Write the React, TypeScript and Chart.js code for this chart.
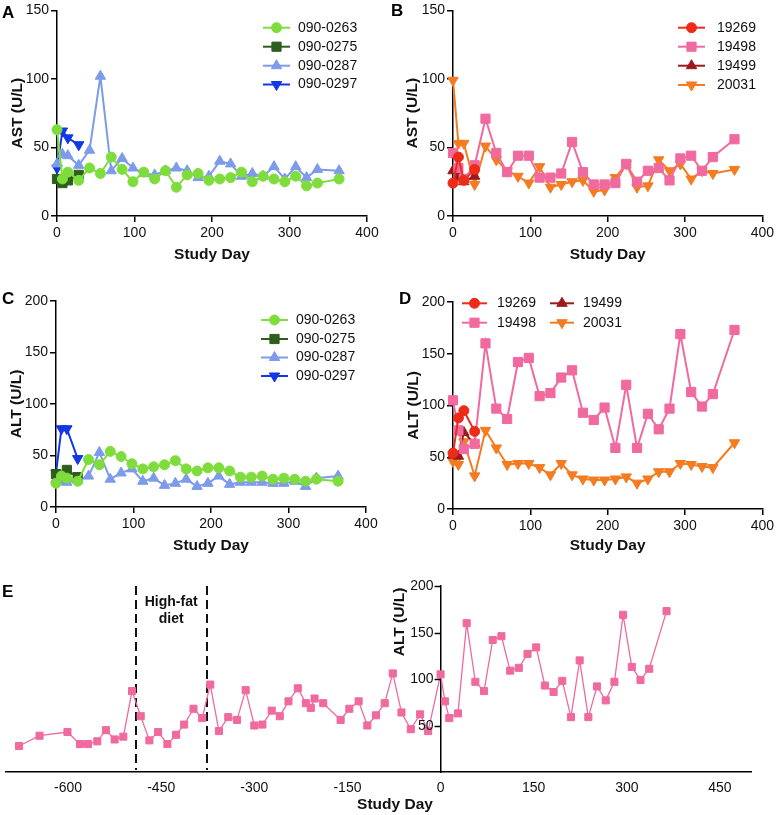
import React, { useEffect, useRef } from 'react';
import { Chart, registerables } from 'chart.js';

Chart.register(...registerables);

const FONT = "'Liberation Sans', Arial, Helvetica, sans-serif";

// ---------------- data ----------------
const STUDY_DAYS = [0, 7, 14, 28, 42, 56, 70, 84, 98, 112, 126, 140, 154, 168, 182, 196, 210, 224, 238, 252, 266, 280, 294, 308, 322, 336, 364];
const EARLY_DAYS = [0, 7, 14, 28];

// Panel A: AST, group 1
const AST_0263 = [63, 27, 32, 26, 35, 31, 43, 34, 25, 32, 27, 33, 21, 30, 31, 26, 27, 28, 32, 25, 29, 27, 25, 29, 22, 24, 27];
const AST_0275 = [27, 24, 26, 30];
const AST_0287 = [38, 45, 44, 37, 48, 102, 33, 42, 35, 31, 30, 33, 35, 33, 28, 29, 40, 38, 29, 31, 29, 36, 27, 36, 28, 34, 33];
const AST_0297 = [35, 62, 57, 52];

// Panel B: AST, group 2
const AST_19269 = [24, 43, 26, 34];
const AST_19498 = [46, 35, 27, 37, 71, 46, 32, 44, 44, 28, 28, 31, 54, 32, 23, 23, 24, 38, 25, 33, 35, 26, 42, 44, 33, 43, 56];
const AST_19499 = [33, 28, 25, 29];
const AST_20031 = [99, 53, 53, 23, 51, 41, 33, 29, 24, 36, 21, 23, 25, 26, 18, 19, 28, 38, 21, 22, 41, 33, 38, 27, 33, 31, 34];

// Panel C: ALT, group 1
const ALT_0263 = [23, 30, 28, 25, 46, 41, 54, 49, 42, 37, 39, 41, 45, 37, 35, 38, 38, 35, 29, 29, 30, 27, 28, 27, 25, 27, 25];
const ALT_0275 = [32, 30, 36, 29];
const ALT_0287 = [27, 25, 24, 26, 30, 53, 27, 33, 37, 25, 28, 21, 23, 27, 20, 23, 30, 22, 24, 24, 24, 23, 23, 25, 20, 28, 30];
const ALT_0297 = [33, 76, 76, 47];

// Panel D: ALT, group 2
const ALT_19269 = [54, 88, 95, 75];
const ALT_19498 = [105, 76, 58, 63, 160, 97, 87, 142, 146, 109, 112, 127, 134, 93, 86, 98, 59, 120, 59, 92, 77, 97, 169, 113, 99, 111, 173];
const ALT_19499 = [52, 51, 74, 63];
const ALT_20031 = [46, 43, 65, 32, 76, 59, 43, 44, 44, 40, 33, 44, 33, 29, 28, 28, 29, 31, 25, 29, 36, 36, 44, 43, 41, 40, 64];

// Panel E: ALT of 19498 including pre-study history
const E_PRE_DAYS = [-679, -646, -601, -581, -568, -553, -539, -525, -511, -497, -483, -469, -455, -440, -426, -413, -398, -384, -371, -357, -342, -328, -314, -300, -287, -272, -259, -245, -230, -217, -209, -203, -189, -161, -147, -132, -118, -104, -90, -77, -63, -48, -33, -20];
const E_PRE_ALT = [28, 39, 43, 30, 30, 33, 45, 35, 38, 87, 60, 34, 43, 30, 40, 51, 68, 58, 94, 44, 59, 56, 88, 50, 51, 66, 60, 76, 90, 74, 69, 79, 74, 56, 68, 76, 50, 61, 74, 106, 64, 46, 62, 44];
const E_DAYS = [...E_PRE_DAYS, ...STUDY_DAYS];
const E_ALT = [...E_PRE_ALT, ...ALT_19498];
const HFD_START = -491;
const HFD_END = -377;
const E_X_TICKS = [-600, -450, -300, -150, 0, 150, 300, 450];
const E_Y_TICKS = [50, 100, 150, 200];

// ---------------- styles ----------------
const GREEN = '#7EDD3C';
const DARK_GREEN = '#2E5D1E';
const LIGHT_BLUE = '#7D9BEA';
const BLUE = '#1336E6';
const RED = '#EE2B19';
const PINK = '#F06A9F';
const DARK_RED = '#9B1B1B';
const ORANGE = '#F47B20';

const tickFont = { family: FONT, size: 14 };
const titleFont = { family: FONT, size: 15.5, weight: 'bold' as const };

function series(label: string, days: number[], values: number[], color: string, style: string, radius: number, rotation = 0, width = 2) {
  return {
    label,
    data: days.map((d, i) => ({ x: d, y: values[i] })),
    borderColor: color,
    backgroundColor: color,
    borderWidth: width,
    pointStyle: style,
    pointRadius: radius,
    pointHoverRadius: radius,
    pointRotation: rotation,
    pointBackgroundColor: color,
    pointBorderColor: color,
    pointBorderWidth: 1,
    tension: 0,
    fill: false,
    clip: false,
  };
}

function xAxis(min: number, max: number, step: number, h: number, padBottom: number) {
  return {
    type: 'linear',
    min,
    max,
    ticks: { stepSize: step, color: '#111', font: tickFont, padding: 3, maxRotation: 0, autoSkip: false },
    grid: { display: true, drawOnChartArea: false, drawTicks: true, tickLength: 6, color: '#000', lineWidth: 1.5 },
    border: { display: true, color: '#000', width: 1.5 },
    title: { display: true, text: 'Study Day', color: '#111', font: titleFont, padding: { top: 0, bottom: padBottom } },
    afterFit: (s: any) => { s.height = h; },
  };
}

function yAxis(max: number, step: number, w: number, title: string, titlePad: number) {
  return {
    type: 'linear',
    min: 0,
    max,
    ticks: { stepSize: step, color: '#111', font: tickFont, padding: 2 },
    grid: { display: true, drawOnChartArea: false, drawTicks: true, tickLength: 6, color: '#000', lineWidth: 1.5 },
    border: { display: true, color: '#000', width: 1.5 },
    title: { display: true, text: title, color: '#111', font: titleFont, padding: { top: titlePad, bottom: 0 } },
    afterFit: (s: any) => { s.width = w; },
  };
}

function baseOptions(padding: any, scales: any) {
  return {
    responsive: false,
    animation: false,
    devicePixelRatio: 1,
    events: [],
    layout: { padding },
    plugins: { legend: { display: false }, tooltip: { enabled: false } },
    scales,
  };
}

function drawMarker(ctx: CanvasRenderingContext2D, style: string, rotationDeg: number, radius: number, x: number, y: number, color: string) {
  let a = (rotationDeg * Math.PI) / 180;
  ctx.beginPath();
  if (style === 'circle') {
    ctx.arc(x, y, radius, 0, Math.PI * 2);
  } else if (style === 'rect') {
    const s = Math.SQRT1_2 * radius;
    ctx.rect(x - s, y - s, 2 * s, 2 * s);
  } else {
    for (let k = 0; k < 3; k++) {
      const px = x + Math.sin(a) * radius;
      const py = y - Math.cos(a) * radius;
      if (k === 0) ctx.moveTo(px, py); else ctx.lineTo(px, py);
      a += (2 * Math.PI) / 3;
    }
    ctx.closePath();
  }
  ctx.fillStyle = color;
  ctx.fill();
  ctx.strokeStyle = color;
  ctx.lineWidth = 1;
  ctx.stroke();
}

type LegendItem = { index: number; x1: number; x2: number; tx: number; y: number };

function legendPlugin(items: LegendItem[]) {
  return {
    id: 'panelLegend',
    afterDraw(chart: any) {
      const ctx: CanvasRenderingContext2D = chart.ctx;
      ctx.save();
      items.forEach((it) => {
        const ds = chart.data.datasets[it.index];
        ctx.strokeStyle = ds.borderColor;
        ctx.lineWidth = ds.borderWidth;
        ctx.setLineDash([]);
        ctx.beginPath();
        ctx.moveTo(it.x1, it.y);
        ctx.lineTo(it.x2, it.y);
        ctx.stroke();
        drawMarker(ctx, ds.pointStyle, ds.pointRotation || 0, ds.pointRadius, (it.x1 + it.x2) / 2, it.y, ds.pointBackgroundColor);
        ctx.fillStyle = '#111';
        ctx.font = `14px ${FONT}`;
        ctx.textBaseline = 'middle';
        ctx.textAlign = 'left';
        ctx.fillText(ds.label, it.tx, it.y);
      });
      ctx.restore();
    },
  };
}

const ePlugin = {
  id: 'eDecor',
  beforeDatasetsDraw(chart: any) {
    const { ctx, chartArea, scales } = chart;
    ctx.save();
    ctx.strokeStyle = '#111';
    ctx.lineWidth = 2;
    ctx.setLineDash([9, 5]);
    [HFD_START, HFD_END].forEach((d) => {
      const px = Math.round(scales.x.getPixelForValue(d));
      ctx.beginPath();
      ctx.moveTo(px, chartArea.top);
      ctx.lineTo(px, chartArea.bottom - 2);
      ctx.stroke();
    });
    ctx.restore();
  },
  afterDraw(chart: any) {
    const { ctx, chartArea, scales } = chart;
    const ax = scales.x.getPixelForValue(0);
    ctx.save();
    // y tick marks and labels of the centred axis
    ctx.strokeStyle = '#000';
    ctx.lineWidth = 1.5;
    ctx.fillStyle = '#111';
    ctx.font = `14px ${FONT}`;
    ctx.textAlign = 'right';
    ctx.textBaseline = 'middle';
    E_Y_TICKS.forEach((v) => {
      const py = Math.round(scales.y.getPixelForValue(v)) + 0.5;
      ctx.beginPath();
      ctx.moveTo(ax - 6, py);
      ctx.lineTo(ax, py);
      ctx.stroke();
      ctx.fillText(String(v), ax - 7, py);
    });
    // annotation
    ctx.textAlign = 'center';
    ctx.font = `bold 14px ${FONT}`;
    const cx = scales.x.getPixelForValue((HFD_START + HFD_END) / 2);
    ctx.fillText('High-fat', cx, chartArea.top + 16);
    ctx.fillText('diet', cx, chartArea.top + 33);
    // x title (offset to the right as in the source figure)
    ctx.font = `bold 15.5px ${FONT}`;
    ctx.fillText('Study Day', 395, chart.height - 10);
    // y title
    ctx.translate(ax - 41, chartArea.top + 36);
    ctx.rotate(-Math.PI / 2);
    ctx.fillText('ALT (U/L)', 0, 0);
    ctx.restore();
  },
};

// ---------------- chart configs ----------------
const cfgA = () => ({
  type: 'line',
  data: {
    datasets: [
      series('090-0263', STUDY_DAYS, AST_0263, GREEN, 'circle', 5),
      series('090-0275', EARLY_DAYS, AST_0275, DARK_GREEN, 'rect', 6.5),
      series('090-0287', STUDY_DAYS, AST_0287, LIGHT_BLUE, 'triangle', 6),
      series('090-0297', EARLY_DAYS, AST_0297, BLUE, 'triangle', 6, 180),
    ],
  },
  options: baseOptions({ left: 0, right: 23, top: 8, bottom: 0 }, { x: xAxis(0, 400, 100, 54, 6), y: yAxis(150, 50, 57, 'AST (U/L)', 8.7) }),
  plugins: [legendPlugin([
    { index: 0, x1: 263, x2: 290, tx: 298, y: 27.7 },
    { index: 1, x1: 263, x2: 290, tx: 298, y: 46.7 },
    { index: 2, x1: 263, x2: 290, tx: 298, y: 65.7 },
    { index: 3, x1: 263, x2: 290, tx: 298, y: 84.5 },
  ])],
});

const cfgB = () => ({
  type: 'line',
  data: {
    datasets: [
      series('19269', EARLY_DAYS, AST_19269, RED, 'circle', 5),
      series('19498', STUDY_DAYS, AST_19498, PINK, 'rect', 6.5),
      series('19499', EARLY_DAYS, AST_19499, DARK_RED, 'triangle', 6),
      series('20031', STUDY_DAYS, AST_20031, ORANGE, 'triangle', 6, 180),
    ],
  },
  options: baseOptions({ left: 0, right: 13, top: 10, bottom: 0 }, { x: xAxis(0, 400, 100, 54, 6), y: yAxis(150, 50, 63, 'AST (U/L)', 13.7) }),
  plugins: [legendPlugin([
    { index: 0, x1: 288, x2: 315, tx: 327, y: 27.7 },
    { index: 1, x1: 288, x2: 315, tx: 327, y: 46.7 },
    { index: 2, x1: 288, x2: 315, tx: 327, y: 65.7 },
    { index: 3, x1: 288, x2: 315, tx: 327, y: 85 },
  ])],
});

const cfgC = () => ({
  type: 'line',
  data: {
    datasets: [
      series('090-0263', STUDY_DAYS, ALT_0263, GREEN, 'circle', 5),
      series('090-0275', EARLY_DAYS, ALT_0275, DARK_GREEN, 'rect', 6.5),
      series('090-0287', STUDY_DAYS, ALT_0287, LIGHT_BLUE, 'triangle', 6),
      series('090-0297', EARLY_DAYS, ALT_0297, BLUE, 'triangle', 6, 180),
    ],
  },
  options: baseOptions({ left: 0, right: 24, top: 31, bottom: 0 }, { x: xAxis(0, 400, 100, 63, 15), y: yAxis(200, 50, 56, 'ALT (U/L)', 7) }),
  plugins: [legendPlugin([
    { index: 0, x1: 261, x2: 288, tx: 296, y: 50 },
    { index: 1, x1: 261, x2: 288, tx: 296, y: 69 },
    { index: 2, x1: 261, x2: 288, tx: 296, y: 87.5 },
    { index: 3, x1: 261, x2: 288, tx: 296, y: 106 },
  ])],
});

const cfgD = () => ({
  type: 'line',
  data: {
    datasets: [
      series('19269', EARLY_DAYS, ALT_19269, RED, 'circle', 5),
      series('19498', STUDY_DAYS, ALT_19498, PINK, 'rect', 6.5),
      series('19499', EARLY_DAYS, ALT_19499, DARK_RED, 'triangle', 6),
      series('20031', STUDY_DAYS, ALT_20031, ORANGE, 'triangle', 6, 180),
    ],
  },
  options: baseOptions({ left: 0, right: 13, top: 32, bottom: 0 }, { x: xAxis(0, 400, 100, 61, 15), y: yAxis(200, 50, 63, 'ALT (U/L)', 14) }),
  plugins: [legendPlugin([
    { index: 0, x1: 72, x2: 97, tx: 107, y: 33.3 },
    { index: 1, x1: 72, x2: 97, tx: 107, y: 52.7 },
    { index: 2, x1: 160, x2: 184, tx: 193, y: 33.3 },
    { index: 3, x1: 160, x2: 184, tx: 193, y: 52.7 },
  ])],
});

const cfgE = () => ({
  type: 'line',
  data: {
    datasets: [series('19498', E_DAYS, E_ALT, PINK, 'rect', 5, 0, 1.3)],
  },
  options: baseOptions({ left: 6, right: 26, top: 16, bottom: 0 }, {
    x: {
      type: 'linear',
      min: -700,
      max: 500,
      ticks: { color: '#111', font: tickFont, padding: 8, maxRotation: 0, autoSkip: false },
      grid: { display: false, drawTicks: false },
      border: { display: true, color: '#000', width: 1.5 },
      title: { display: false },
      afterBuildTicks: (s: any) => { s.ticks = E_X_TICKS.map((v) => ({ value: v })); },
      afterFit: (s: any) => { s.height = 43; },
    },
    y: {
      type: 'linear',
      min: 0,
      max: 200,
      position: { x: 0 },
      ticks: { display: false },
      grid: { display: false, drawTicks: false },
      border: { display: true, color: '#000', width: 1.5 },
      title: { display: false },
      afterBuildTicks: (s: any) => { s.ticks = E_Y_TICKS.map((v) => ({ value: v })); },
    },
  }),
  plugins: [ePlugin],
});

function Panel({ left, top, width, height, config }: { left: number; top: number; width: number; height: number; config: () => any }) {
  const ref = useRef<HTMLCanvasElement | null>(null);
  useEffect(() => {
    if (!ref.current) return;
    const chart = new Chart(ref.current, config());
    return () => chart.destroy();
  }, [config]);
  return (
    <div style={{ position: 'absolute', left, top, width, height }}>
      <canvas ref={ref} width={width} height={height} style={{ width, height, display: 'block' }} />
    </div>
  );
}

const letterStyle = (left: number, top: number): React.CSSProperties => ({
  position: 'absolute',
  left,
  top,
  fontFamily: FONT,
  fontWeight: 'bold',
  fontSize: 17,
  lineHeight: '17px',
  color: '#000',
});

export default function App() {
  return (
    <div style={{ position: 'absolute', left: 0, top: 0, width: 777, height: 815, background: '#fff', overflow: 'hidden' }}>
      <Panel left={0} top={0} width={390} height={270} config={cfgA} />
      <Panel left={390} top={0} width={387} height={270} config={cfgB} />
      <Panel left={0} top={270} width={390} height={300} config={cfgC} />
      <Panel left={390} top={270} width={387} height={300} config={cfgD} />
      <Panel left={0} top={570} width={777} height={245} config={cfgE} />
      <div style={letterStyle(2, 4)}>A</div>
      <div style={letterStyle(391, 2)}>B</div>
      <div style={letterStyle(2, 290)}>C</div>
      <div style={letterStyle(399, 290)}>D</div>
      <div style={letterStyle(2, 583)}>E</div>
    </div>
  );
}
